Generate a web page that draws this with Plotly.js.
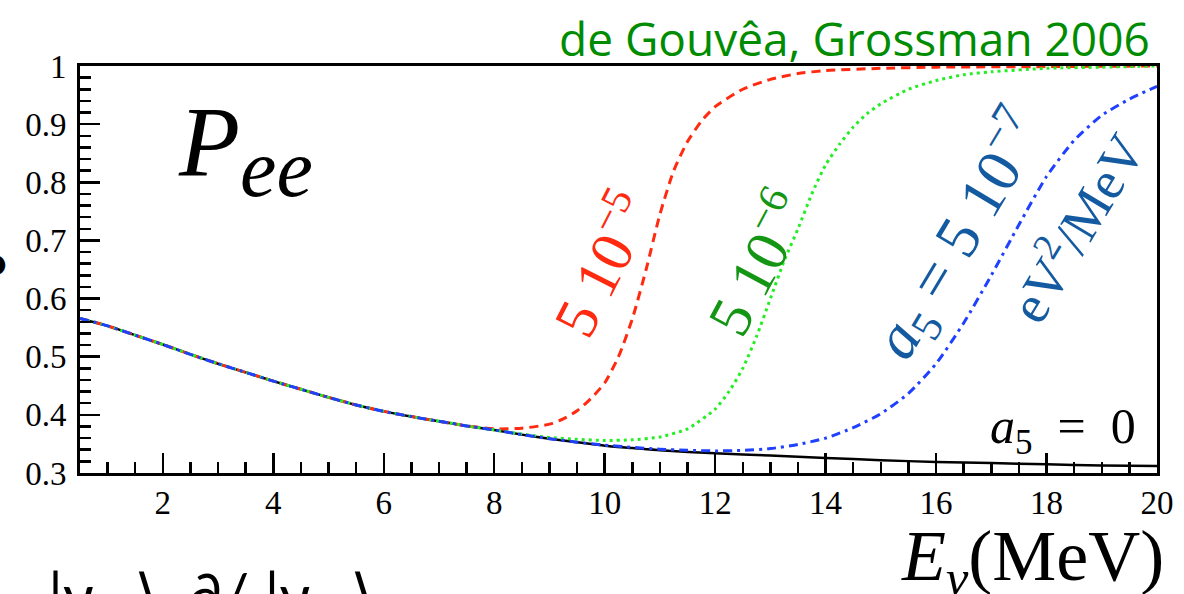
<!DOCTYPE html>
<html>
<head>
<meta charset="utf-8">
<script src="https://cdn.plot.ly/plotly-3.0.1.min.js"></script>
<style>html,body{margin:0;padding:0;background:#fff;}#chart{width:1184px;height:594px;}</style>
</head>
<body>
<div id="chart"></div>
<script>
// ---- data ----
const energyA0 = [0.5,1,1.5,2,2.5,3,3.5,4,4.5,5,5.5,6,6.5,7,7.5,8,8.5,9,9.5,10,10.5,11,12,13,14,15,16,17,18,19,20];
const peeA0    = [0.566,0.553,0.537,0.521,0.504,0.488,0.473,0.458,0.444,0.430,0.417,0.406,0.397,0.389,0.381,0.374,0.366,0.359,0.353,0.347,0.343,0.339,0.334,0.330,0.326,0.322,0.319,0.317,0.315,0.313,0.312];

const energyA5e5 = [0.5,1,1.5,2,2.5,3,3.5,4,4.5,5,5.5,6,6.5,7,7.5,8,8.5,9,9.25,9.5,9.75,10,10.25,10.5,10.75,11,11.25,11.5,11.75,12,12.5,13,13.5,14,15,16,18,20];
const peeA5e5    = [0.566,0.553,0.537,0.521,0.504,0.488,0.473,0.458,0.444,0.430,0.417,0.406,0.397,0.389,0.381,0.376,0.377,0.384,0.393,0.407,0.428,0.455,0.500,0.565,0.650,0.745,0.820,0.870,0.905,0.930,0.960,0.977,0.987,0.992,0.996,0.998,0.999,1.000];

const energyA5e6 = [0.5,1,1.5,2,2.5,3,3.5,4,4.5,5,5.5,6,6.5,7,7.5,8,8.5,9,9.5,10,10.5,11,11.5,12,12.25,12.5,12.75,13,13.25,13.5,13.75,14,14.25,14.5,14.75,15,15.5,16,16.5,17,18,19,20];
const peeA5e6    = [0.566,0.553,0.537,0.521,0.504,0.488,0.473,0.458,0.444,0.430,0.417,0.406,0.397,0.389,0.381,0.374,0.367,0.361,0.358,0.356,0.357,0.362,0.376,0.410,0.440,0.480,0.535,0.600,0.665,0.720,0.780,0.830,0.865,0.895,0.918,0.935,0.960,0.975,0.985,0.990,0.996,0.998,1.000];

const energyA5e7 = [0.5,1,1.5,2,2.5,3,3.5,4,4.5,5,5.5,6,6.5,7,7.5,8,8.5,9,9.5,10,10.5,11,11.5,12,12.5,13,13.5,14,14.5,15,15.5,16,16.5,17,17.5,18,18.5,19,19.5,20];
const peeA5e7    = [0.566,0.553,0.537,0.521,0.504,0.488,0.473,0.458,0.444,0.430,0.417,0.406,0.397,0.389,0.381,0.374,0.366,0.359,0.353,0.348,0.344,0.341,0.339,0.338,0.339,0.342,0.349,0.360,0.378,0.402,0.437,0.488,0.558,0.640,0.727,0.810,0.872,0.915,0.943,0.965];

const xTickVals = [2,4,6,8,10,12,14,16,18,20];
const xTickText = ['2','4','6','8','10','12','14','16','18','20'];
const yTickVals = [0.3,0.4,0.5,0.6,0.7,0.8,0.9,1.0];
const yTickText = ['0.3','0.4','0.5','0.6','0.7','0.8','0.9','1'];

// ---- geometry helpers (pixel -> paper) ----
const W = 1184, H = 594, L = 80, R = 27, T = 66, B = 121;
const PW = W - L - R, PH = H - T - B;
const px = x => (x - L) / PW;
const py = y => (H - B - y) / PH;

const serif = 'Liberation Serif';
const sans = 'Open Sans';

const traces = [
  {x: energyA0, y: peeA0, mode: 'lines', line: {color: '#000000', width: 2.5, shape: 'spline', smoothing: 0.6}, name: 'a5 = 0'},
  {x: energyA5e5, y: peeA5e5, mode: 'lines', line: {color: '#ff2a10', width: 3, dash: '9px,6px', shape: 'spline', smoothing: 0.6}, name: '5e-5'},
  {x: energyA5e6, y: peeA5e6, mode: 'lines', line: {color: '#22ee22', width: 3, dash: '3px,4px', shape: 'spline', smoothing: 0.6}, name: '5e-6'},
  {x: energyA5e7, y: peeA5e7, mode: 'lines', line: {color: '#2040ff', width: 3, dash: '9px,5px,3px,5px', shape: 'spline', smoothing: 0.6}, name: '5e-7'}
];

const axisCommon = {
  showgrid: false, zeroline: false,
  showline: true, linecolor: '#000', linewidth: 3, mirror: true,
  ticks: 'inside', ticklen: 20, tickwidth: 2.5, tickcolor: '#000',
  tickfont: {family: serif, size: 33, color: '#000'}
};

const layout = {
  width: W, height: H,
  margin: {l: L, r: R, t: T, b: B, pad: 0},
  paper_bgcolor: '#fff', plot_bgcolor: '#fff',
  showlegend: false,
  font: {family: serif},
  xaxis: Object.assign({}, axisCommon, {
    range: [0.5, 20], tickmode: 'array', tickvals: xTickVals, ticktext: xTickText,
    ticklabelstandoff: -2,
    minor: {dtick: 0.5, tick0: 0, ticks: 'inside', ticklen: 11, tickwidth: 2.5, tickcolor: '#000', showgrid: false}
  }),
  yaxis: Object.assign({}, axisCommon, {
    range: [0.3, 1.0], tickmode: 'array', tickvals: yTickVals, ticktext: yTickText,
    ticklabelstandoff: 4,
    minor: {dtick: 0.02, tick0: 0, ticks: 'inside', ticklen: 11, tickwidth: 2.5, tickcolor: '#000', showgrid: false}
  }),
  annotations: [
    {xref: 'paper', yref: 'paper', x: px(1152), y: py(38), xanchor: 'right', yanchor: 'middle', showarrow: false,
     text: 'de Gouvêa, Grossman 2006', font: {family: sans, size: 46, color: 'rgb(0,140,0)'}},
    {xref: 'paper', yref: 'paper', x: px(176), y: py(150), xanchor: 'left', yanchor: 'middle', showarrow: false,
     text: '<i>P</i><sub><span style="font-size:82px"><i>ee</i></span></sub>', font: {family: serif, size: 100, color: '#000'}},
    {xref: 'paper', yref: 'paper', x: px(1138), y: py(430), xanchor: 'right', yanchor: 'middle', showarrow: false,
     text: '<i>a</i><sub>5</sub>&nbsp;&nbsp;=&nbsp;&nbsp;0', font: {family: serif, size: 50, color: '#000'}},
    {xref: 'paper', yref: 'paper', x: px(600), y: py(263), xanchor: 'center', yanchor: 'middle', showarrow: false, textangle: -63,
     text: '5&nbsp;10<sup>−5</sup>', font: {family: serif, size: 60, color: '#ff2a10'}},
    {xref: 'paper', yref: 'paper', x: px(755), y: py(262), xanchor: 'center', yanchor: 'middle', showarrow: false, textangle: -62,
     text: '5&nbsp;10<sup>−6</sup>', font: {family: serif, size: 60, color: 'rgb(20,150,20)'}},
    {xref: 'paper', yref: 'paper', x: px(958), y: py(235), xanchor: 'center', yanchor: 'middle', showarrow: false, textangle: -59,
     text: '<i>a</i><sub>5</sub>&nbsp;=&nbsp;5&nbsp;10<sup>−7</sup>', font: {family: serif, size: 62, color: 'rgb(20,90,160)'}},
    {xref: 'paper', yref: 'paper', x: px(1074), y: py(226), xanchor: 'center', yanchor: 'middle', showarrow: false, textangle: -59,
     text: 'eV<sup>2</sup>/MeV', font: {family: serif, size: 54, color: 'rgb(20,90,160)'}},
    {xref: 'paper', yref: 'paper', x: px(1166), y: py(561), xanchor: 'right', yanchor: 'middle', showarrow: false,
     text: '<i>E</i><sub><i>ν</i></sub>(MeV)', font: {family: serif, size: 72, color: '#000'}},
    {xref: 'paper', yref: 'paper', x: px(-5), y: py(263), xanchor: 'center', yanchor: 'middle', showarrow: false,
     text: '●', font: {family: 'DejaVu Sans', size: 26, color: '#000'}},
    {xref: 'paper', yref: 'paper', x: px(46), y: py(556), xanchor: 'left', yanchor: 'top', showarrow: false,
     text: '|ν<sub>1</sub>&nbsp;⟩&nbsp;&nbsp;∂/&nbsp;|ν<sub>2</sub>&nbsp;⟩', font: {family: 'Lato', size: 60, color: '#000'}}
  ]
};

Plotly.newPlot('chart', traces, layout, {staticPlot: true, displayModeBar: false});
</script>
</body>
</html>
